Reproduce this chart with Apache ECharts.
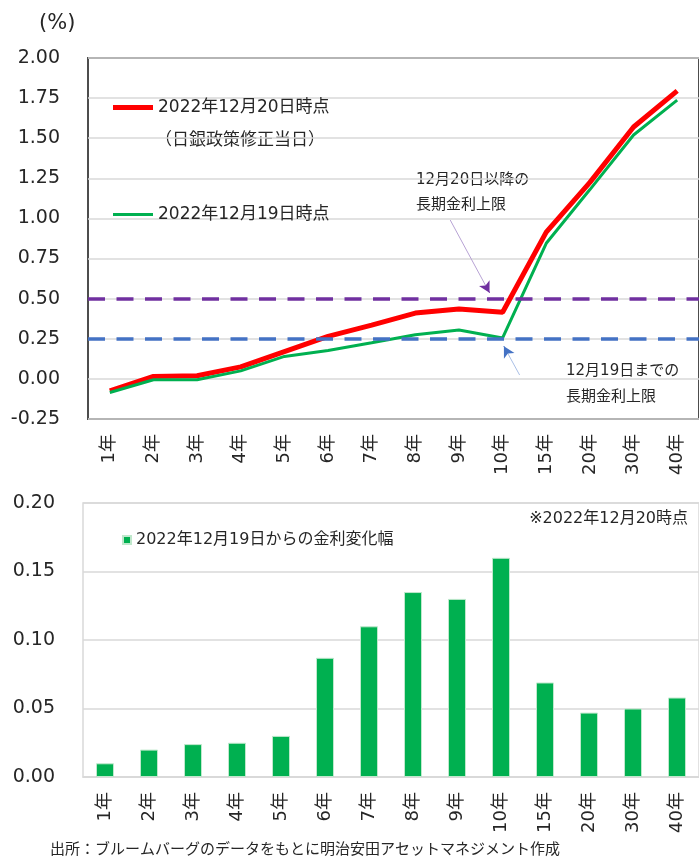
<!DOCTYPE html>
<html>
<head>
<meta charset="utf-8">
<script src="https://cdn.jsdelivr.net/npm/echarts@6/dist/echarts.min.js"></script>
<style>
  html, body { margin: 0; padding: 0; background: #fff; }
  #main { width: 699px; height: 862px; }
</style>
</head>
<body>
<div id="main"></div>
<script>
// データ
var years = ["1年", "2年", "3年", "4年", "5年", "6年", "7年", "8年", "9年", "10年", "15年", "20年", "30年", "40年"];
var rate1220 = [-0.075, 0.015, 0.02, 0.075, 0.17, 0.265, 0.335, 0.41, 0.435, 0.415, 0.915, 1.225, 1.57, 1.795];
var rate1219 = [-0.085, -0.005, -0.005, 0.05, 0.14, 0.177, 0.225, 0.275, 0.305, 0.255, 0.845, 1.18, 1.52, 1.737];
var change = [0.010, 0.020, 0.024, 0.025, 0.030, 0.087, 0.110, 0.135, 0.130, 0.160, 0.069, 0.047, 0.050, 0.058];
var capAfter = 0.5;   // 12月20日以降の長期金利上限
var capBefore = 0.25; // 12月19日までの長期金利上限

var FONT = "'DejaVu Sans', 'Noto Sans CJK JP', sans-serif";
var TXT = "#262626";

(function() {
  var myChart = echarts.init(document.getElementById("main"));

  // 注記の矢印（線＋矢じり）
  function arrow(from, to, lineColor, headColor) {
    var near = [to[0] - (to[0] - from[0]) * 0.03, to[1] - (to[1] - from[1]) * 0.03];
    return [
      [
        { coord: from, symbol: "none", lineStyle: { color: lineColor, width: 1, type: "solid" } },
        { coord: to, symbol: "none" }
      ],
      [
        { coord: near, symbol: "none", lineStyle: { color: headColor, width: 1, type: "solid" } },
        { coord: to, symbol: "arrow", symbolSize: [9, 11] }
      ]
    ];
  }

  var capLines = [
    { yAxis: capAfter, lineStyle: { color: "#7030A0", width: 3.5, type: [17, 11.5] } },
    { yAxis: capBefore, lineStyle: { color: "#4472C4", width: 3.5, type: [17, 11.5] } }
  ]
    .concat(arrow([7.8, 0.99], [8.7, 0.537], "#B7A2D4", "#7030A0"))
    .concat(arrow([9.39, 0.024], [9.03, 0.203], "#A9BFE6", "#4472C4"));

  var option = {
    animation: false,
    textStyle: { fontFamily: FONT },
    grid: [
      { left: 88, top: 58, right: -8, bottom: 443, show: true, borderColor: "#4d4d4d", borderWidth: 2 },
      { left: 83, top: 503, right: -3, bottom: 85, show: true, borderColor: "#D9D9D9", borderWidth: 1.5 }
    ],
    legend: [
      {
        data: ["2022年12月20日時点"],
        left: 113, top: 99, padding: 0, z: 6,
        icon: "rect", itemWidth: 40, itemHeight: 5,
        textStyle: { fontSize: 17, color: TXT, fontFamily: FONT }
      },
      {
        data: ["2022年12月19日時点"],
        left: 113, top: 206, padding: 0, z: 6,
        icon: "rect", itemWidth: 40, itemHeight: 3,
        textStyle: { fontSize: 17, color: TXT, fontFamily: FONT }
      },
      {
        data: ["2022年12月19日からの金利変化幅"],
        left: 122, top: 532, padding: 0,
        icon: "rect", itemWidth: 8, itemHeight: 8,
        textStyle: { fontSize: 16, color: TXT, fontFamily: FONT }
      }
    ],
    xAxis: [
      {
        type: "category", gridIndex: 0, data: years,
        axisLine: { show: false },
        axisTick: { show: false },
        axisLabel: { rotate: 90, fontSize: 18, margin: 15, color: TXT, fontFamily: FONT }
      },
      // 注記用の補助軸（カテゴリの中心と同じ位置）
      { type: "value", gridIndex: 0, min: -0.5, max: 13.5, show: false },
      {
        type: "category", gridIndex: 1, data: years,
        axisLine: { lineStyle: { color: "#D9D9D9", width: 1.5 } },
        axisTick: { show: false },
        axisLabel: { rotate: 90, fontSize: 18, margin: 15, color: TXT, fontFamily: FONT }
      }
    ],
    yAxis: [
      {
        type: "value", gridIndex: 0, min: -0.25, max: 2, interval: 0.25,
        axisLine: { show: false }, axisTick: { show: false },
        axisLabel: {
          fontSize: 19, margin: 28, color: TXT, fontFamily: FONT,
          formatter: function(v) { return v.toFixed(2); }
        },
        splitLine: { lineStyle: { color: "#D9D9D9", width: 1.5 } }
      },
      {
        type: "value", gridIndex: 1, min: 0, max: 0.2, interval: 0.05,
        axisLine: { show: false }, axisTick: { show: false },
        axisLabel: {
          fontSize: 19, margin: 28, color: TXT, fontFamily: FONT,
          formatter: function(v) { return v.toFixed(2); }
        },
        splitLine: { lineStyle: { color: "#D9D9D9", width: 1.5 } }
      }
    ],
    series: [
      {
        name: "2022年12月20日時点",
        type: "line", xAxisIndex: 0, yAxisIndex: 0,
        data: rate1220, color: "#FF0000", symbol: "none", z: 3,
        lineStyle: { width: 5 }
      },
      {
        name: "2022年12月19日時点",
        type: "line", xAxisIndex: 0, yAxisIndex: 0,
        data: rate1219, color: "#00B050", symbol: "none", z: 4,
        lineStyle: { width: 3 }
      },
      {
        name: "上限",
        type: "line", xAxisIndex: 1, yAxisIndex: 0,
        data: [], z: 2,
        markLine: {
          silent: true, symbol: "none",
          label: { show: false },
          data: capLines
        }
      },
      {
        name: "2022年12月19日からの金利変化幅",
        type: "bar", xAxisIndex: 2, yAxisIndex: 1,
        data: change, barWidth: 18, color: "#00B050",
        itemStyle: { borderColor: "#BFE8CC", borderWidth: 1 }
      }
    ],
    graphic: {
      z: 5,
      elements: [
        // 凡例の背景（目盛線を隠す）
        { type: "rect", left: 92, top: 62, shape: { width: 265, height: 205 }, style: { fill: "#fff" } },
        { type: "text", left: 39, top: 13, style: { text: "(%)", font: "21px " + FONT, fill: TXT } },
        { type: "text", left: 155, top: 132, style: { text: "（日銀政策修正当日）", font: "17px " + FONT, fill: TXT } },
        { type: "text", left: 416, top: 173, style: { text: "12月20日以降の", font: "15px " + FONT, fill: TXT } },
        { type: "text", left: 416, top: 198, style: { text: "長期金利上限", font: "15px " + FONT, fill: TXT } },
        { type: "text", left: 566, top: 364, style: { text: "12月19日までの", font: "15px " + FONT, fill: TXT } },
        { type: "text", left: 566, top: 390, style: { text: "長期金利上限", font: "15px " + FONT, fill: TXT } },
        { type: "text", right: 11, top: 511, style: { text: "※2022年12月20時点", font: "16px " + FONT, fill: TXT } },
        { type: "text", left: 50, top: 843, style: { text: "出所：ブルームバーグのデータをもとに明治安田アセットマネジメント作成", font: "15px " + FONT, fill: TXT } }
      ]
    }
  };

  myChart.setOption(option);
  window.addEventListener("resize", function() {
    myChart.resize();
  });
})();
</script>
</body>
</html>
